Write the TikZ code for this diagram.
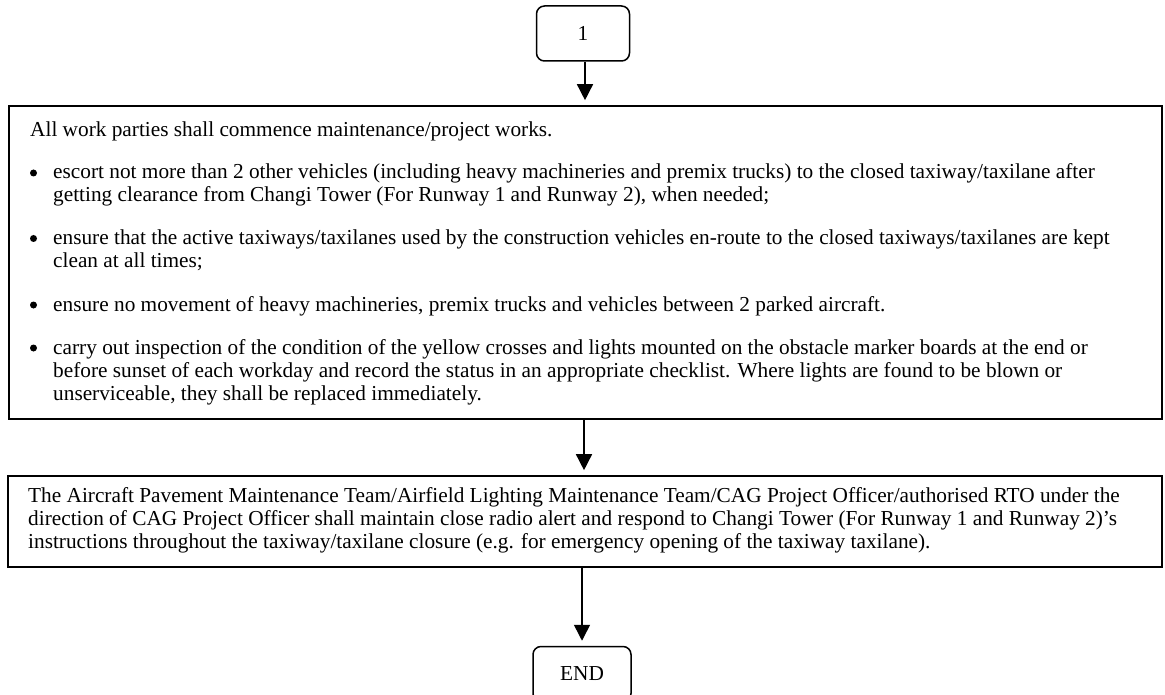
\documentclass[tikz,border=0pt]{standalone}
\usepackage{fontspec}
\setmainfont{Liberation Serif}
\usetikzlibrary{arrows.meta}
\tikzset{
  term/.style={draw, line width=1.5pt, rounded corners=8pt, minimum width=93pt, minimum height=55pt, inner sep=0pt, font=\fontsize{21.3}{24}\selectfont},
  panel/.style={draw, line width=1.6pt, inner sep=0pt},
  txt/.style={anchor=base west, inner sep=0pt, font=\fontsize{21.3}{24}\selectfont},
  dot/.style={circle, fill=black, inner sep=0pt, minimum size=7pt},
  flow/.style={line width=1.5pt, -{Triangle[width=16pt,length=16pt]}, shorten >=5pt}
}
\begin{document}
\begin{tikzpicture}[x=1pt,y=-1pt]
\useasboundingbox (0,0) rectangle (1165,695);
% terminals
\node[term] (start) at (583,33.5) {1};
\node[term, minimum width=98pt] (end) at (582,674) {END};
% panels
\node[panel, minimum width=1153pt, minimum height=313pt] (box1) at (585.5,262.5) {};
\node[panel, minimum width=1154pt, minimum height=91pt] (box2) at (585,521.5) {};
% box 1 text
\node[txt] (l1) at (30,137) {All work parties shall commence maintenance/project works.};
\node[dot] (b1) at (33.5,173) {};
\node[txt] (l2) at (53,179) {escort not more than 2 other vehicles (including heavy machineries and premix trucks) to the closed taxiway/taxilane after};
\node[txt] (l3) at (53,202) {getting clearance from Changi Tower (For Runway 1 and Runway 2), when needed;};
\node[dot] (b2) at (33.5,238.5) {};
\node[txt] (l4) at (53,244.5) {ensure that the active taxiways/taxilanes used by the construction vehicles en-route to the closed taxiways/taxilanes are kept};
\node[txt] (l5) at (53,267.5) {clean at all times;};
\node[dot] (b3) at (33.5,305) {};
\node[txt] (l6) at (53,311) {ensure no movement of heavy machineries, premix trucks and vehicles between 2 parked aircraft.};
\node[dot] (b4) at (33.5,348) {};
\node[txt] (l7) at (53,354) {carry out inspection of the condition of the yellow crosses and lights mounted on the obstacle marker boards at the end or};
\node[txt] (l8) at (53,377) {before sunset of each workday and record the status in an appropriate checklist. Where lights are found to be blown or};
\node[txt] (l9) at (53,400) {unserviceable, they shall be replaced immediately.};
% box 2 text
\node[txt] (m1) at (28,502) {The Aircraft Pavement Maintenance Team/Airfield Lighting Maintenance Team/CAG Project Officer/authorised RTO under the};
\node[txt] (m2) at (28,525) {direction of CAG Project Officer shall maintain close radio alert and respond to Changi Tower (For Runway 1 and Runway 2)’s};
\node[txt] (m3) at (28,548) {instructions throughout the taxiway/taxilane closure (e.g. for emergency opening of the taxiway taxilane).};
% connectors
\draw[flow] ([xshift=2pt]start.south) -- ([xshift=2pt]start.south |- box1.north);
\draw[flow] ([xshift=-1.5pt]box1.south) -- ([xshift=-1.5pt]box1.south |- box2.north);
\draw[flow] ([xshift=-3pt]box2.south) -- ([xshift=-3pt]box2.south |- end.north);
\end{tikzpicture}
\end{document}
